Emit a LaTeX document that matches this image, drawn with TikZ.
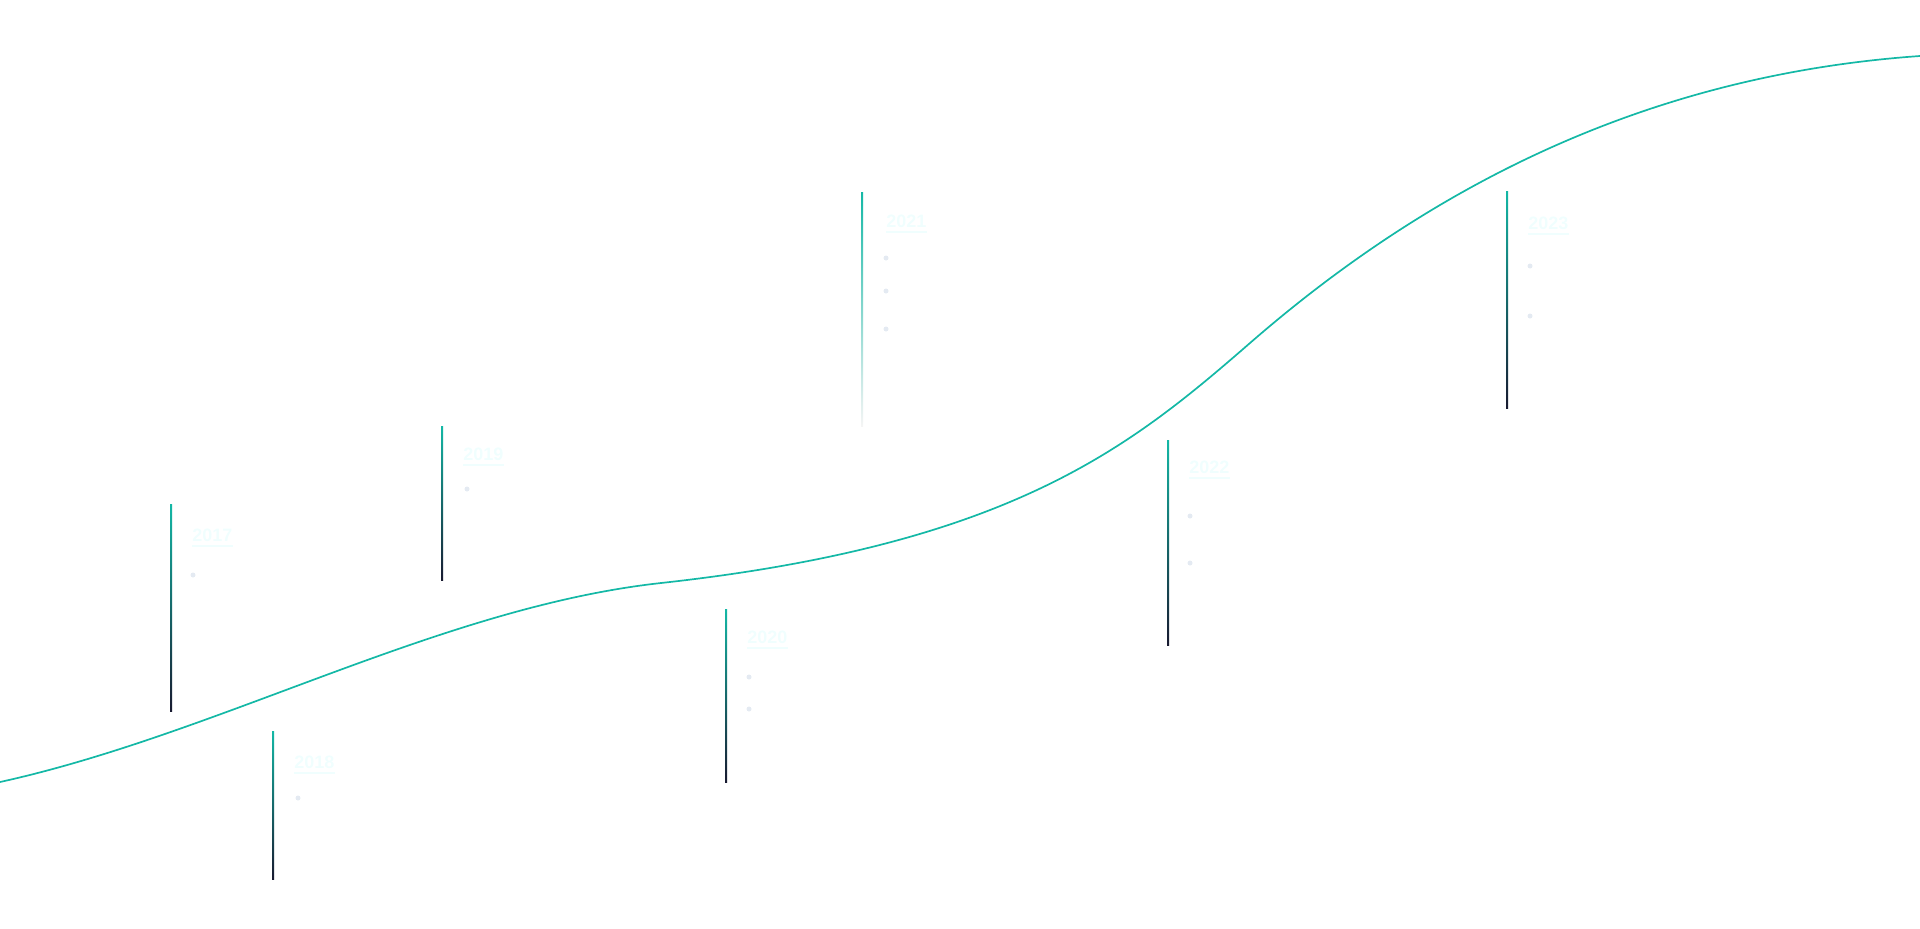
\documentclass[tikz,border=0pt]{standalone}
\usepackage{fontspec}
\setmainfont{Liberation Sans}
\usetikzlibrary{calc}
\definecolor{tealline}{RGB}{20,184,166}
\definecolor{navy}{RGB}{24,26,48}
\definecolor{faint}{RGB}{240,254,254}
\definecolor{dotgray}{RGB}{228,234,242}

\begin{document}
\begin{tikzpicture}[x=0.5pt, y=-0.5pt, font=\bfseries,
    curve/.style={tealline, line width=0.85pt},
    yearlbl/.style={faint, font=\bfseries\fontsize{9}{10}\selectfont, inner sep=0pt, anchor=south west},
    bul/.style={circle, fill=dotgray, inner sep=0pt, minimum size=2.5pt}]
    \useasboundingbox (0,0) rectangle (1920,928);

    % Kurve
    \coordinate (k0) at (0,782);
    \coordinate (k1) at (661,583);
    \coordinate (k2) at (1250,343);
    \coordinate (k3) at (1920,56);
    \draw[curve] (k0) .. controls (220,733.6) and (441,607.2) .. (k1)
                      .. controls (1011,544.5) and (1130,447.4) .. (k2)
                      .. controls (1450,169) and (1670,73.5) .. (k3);

    % Jahresmarken: x / oben / unten / Jahr / Linie unter Jahr
    \foreach \x/\top/\bot/\yr/\ul in {171/504/711/2017/546, 273/731/879/2018/773,
        442/426/580/2019/465, 726/609/782/2020/648, 1168/440/645/2022/478,
        1507/191/408/2023/234} {
      \shade[top color=tealline, bottom color=navy] (\x-1,\top) rectangle (\x+1,\bot);
      \node[yearlbl] (y\yr) at (\x+21,\ul-4) {\yr};
      \draw[faint, line width=0.6pt] (y\yr.south west |- 0,\ul) -- (y\yr.south east |- 0,\ul);
    }
    % 2021 (laeuft nach unten aus)
    \shade[top color=tealline, middle color=teal!70!navy, bottom color=gray!8] (861,192) rectangle (863,426);
    \node[yearlbl] (y2021) at (886,228) {2021};
    \draw[faint, line width=0.6pt] (y2021.south west |- 0,232) -- (y2021.south east |- 0,232);

    % Punkte
    \foreach \bx/\by in {193/575, 298/798, 467/489, 749/677, 749/709,
        886/258, 886/291, 886/329, 1190/516, 1190/563, 1530/266, 1530/316}
      \node[bul] at (\bx,\by) {};
\end{tikzpicture}
\end{document}
